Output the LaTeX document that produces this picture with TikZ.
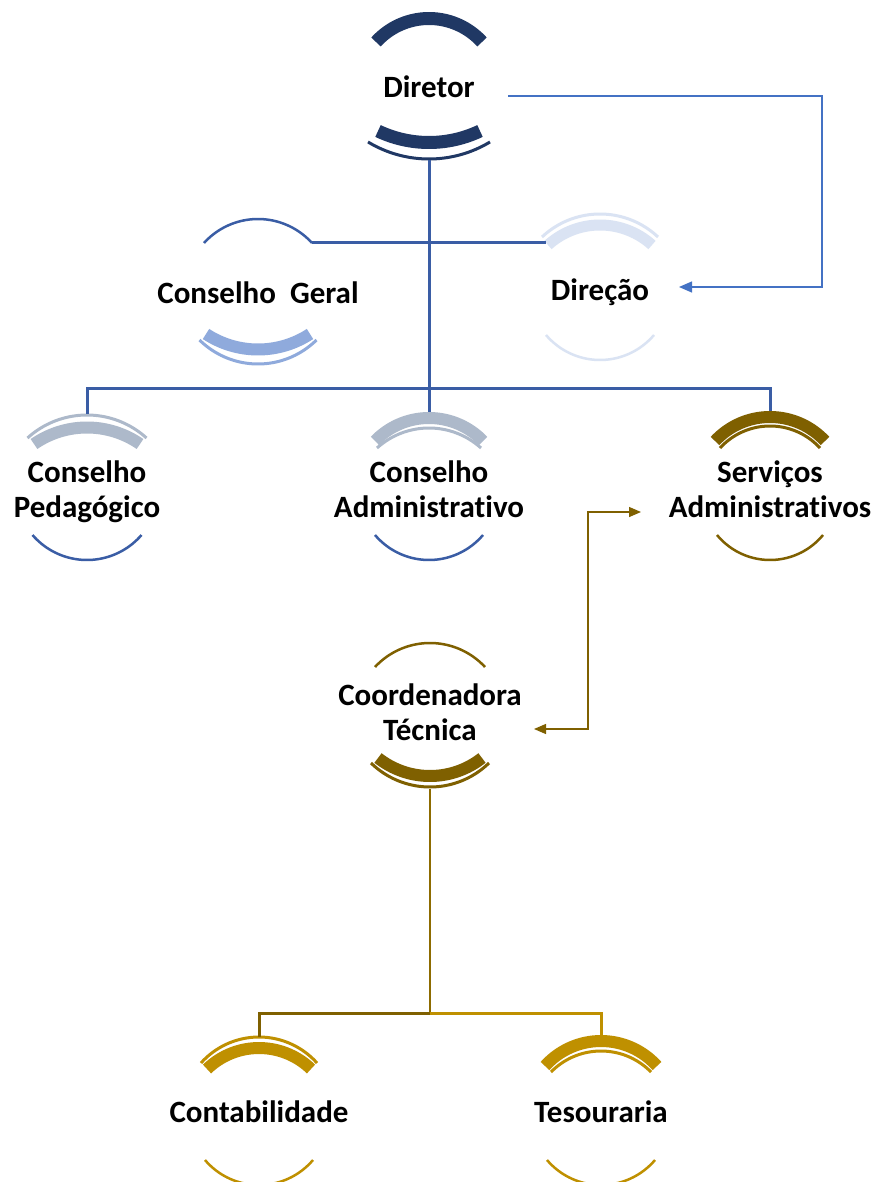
\documentclass[tikz,border=0pt]{standalone}
\usepackage{fontspec}
\setmainfont[Ligatures=NoCommon]{Carlito}
\usetikzlibrary{arrows.meta}
\definecolor{navy}{HTML}{203864}
\definecolor{midblue}{HTML}{3A5DA5}
\definecolor{lightblue}{HTML}{8FAADC}
\definecolor{paleblue}{HTML}{DAE3F3}
\definecolor{greyblue}{HTML}{ADB9CA}
\definecolor{arrowblue}{HTML}{4472C4}
\definecolor{olive}{HTML}{7F6000}
\definecolor{gold}{HTML}{BF9000}
\definecolor{midgold}{HTML}{8D6B00}
% #1 cx, #2 y at ends, #3 y at apex, #4 half width, #5 line width, #6 colour
\newcommand\orgArc[6]{%
  \pgfmathsetmacro\oaS{abs(#2-#3)}%
  \pgfmathsetmacro\oaR{(#4*#4+\oaS*\oaS)/(2*\oaS)}%
  \pgfmathsetmacro\oaT{asin(#4/\oaR)}%
  \pgfmathsetmacro\oaK{((#3<#2)?1:-1)*\oaR}%
  \draw[line width=#5pt, #6] plot[domain=-\oaT:\oaT, samples=40, variable=\t]
    ({#1+\oaR*sin(\t)},{#3+(\oaK)*(1-cos(\t))});%
}
\begin{document}
\begin{tikzpicture}[x=1pt,y=-1pt,
  lbl/.style={font=\fontsize{31}{35}\selectfont\bfseries, align=center, inner sep=0pt, anchor=base},
  bconn/.style={draw=midblue, line width=3pt},
  barrow/.style={draw=arrowblue, line width=1.3pt, -{Triangle[length=13pt,width=11pt]}},
  oarrow/.style={draw=olive, line width=1.3pt, {Triangle[length=12pt,width=10pt]}-{Triangle[length=12pt,width=10pt]}},
  oconn/.style={draw=olive, line width=3pt},
  gconn/.style={draw=gold, line width=3pt},
  vconn/.style={draw=midgold, line width=2.5pt}]
\useasboundingbox (0,0) rectangle (880,1182);
\fill[white] (0,0) rectangle (880,1182);
\clip (0,0) rectangle (880,1182);

% ---- arcs ----
% Diretor
\orgArc{429}{42}{18.5}{53}{13}{navy}
\orgArc{429}{131}{142.5}{51}{13}{navy}
\orgArc{429}{142}{159}{61}{3}{navy}
% Conselho Geral
\orgArc{258}{243}{219}{54}{2.5}{midblue}
\orgArc{258}{334}{349.5}{52}{12}{lightblue}
\orgArc{258}{340}{364}{58.5}{3}{lightblue}
% Direcao
\orgArc{600}{237}{214}{58}{3}{paleblue}
\orgArc{600}{245}{225}{52}{11}{paleblue}
\orgArc{600}{335}{360}{54}{2.5}{paleblue}
% Conselho Pedagogico
\orgArc{87}{438}{415}{59.5}{3}{greyblue}
\orgArc{87}{444}{427.5}{53}{12}{greyblue}
\orgArc{87}{535}{560}{54.5}{2.5}{midblue}
% Conselho Administrativo
\orgArc{429}{441}{418}{54}{12}{greyblue}
\orgArc{429}{448}{428}{52}{3}{greyblue}
\orgArc{429}{535}{560}{54}{2.5}{midblue}
% Servicos Administrativos
\orgArc{770}{441}{417}{55}{12}{olive}
\orgArc{770}{448}{426}{50}{3}{olive}
\orgArc{770}{535}{560}{53}{2.5}{olive}
% Coordenadora Tecnica
\orgArc{430}{667}{643}{55}{2.5}{olive}
\orgArc{430}{758}{776}{52}{12}{olive}
\orgArc{430}{763}{787}{59}{3}{olive}
% Contabilidade
\orgArc{259}{1063}{1037}{58}{3}{gold}
\orgArc{259}{1069}{1048}{52}{12}{gold}
\orgArc{259}{1160}{1185}{54}{2.5}{gold}
% Tesouraria
\orgArc{601}{1066}{1041}{56}{12}{gold}
\orgArc{601}{1072}{1051}{50}{3}{gold}
\orgArc{601}{1160}{1185}{54}{2.5}{gold}

% ---- labels (base = baseline of the last line) ----
\node[lbl] (dir) at (429,98) {Diretor};
\node[lbl] (cg) at (258,303) {Conselho\ \ Geral};
\node[lbl] (dc) at (600,300) {Direção};
\node[lbl] (cp) at (87,517) {Conselho\\Pedagógico};
\node[lbl] (ca) at (429,517) {Conselho\\Administrativo};
\node[lbl] (ss) at (770,517) {Serviços\\Administrativos};
\node[lbl] (ct) at (430,740) {Coordenadora\\Técnica};
\node[lbl] (cb) at (259,1122) {Contabilidade};
\node[lbl] (ts) at (601,1122) {Tesouraria};

% ---- connector points ----
\coordinate (dirB) at (429,160.5);
\coordinate (jB) at (429,388);
\coordinate (cgR) at (312,243);
\coordinate (dcL) at (546,243);
\coordinate (cpT) at (87,413.5);
\coordinate (caT) at (429,412);
\coordinate (ssT) at (770,411);
\coordinate (dirR) at (508,96);
\coordinate (k1) at (822,96);
\coordinate (dcR) at (679,287);
\coordinate (ssL) at (641,512);
\coordinate (k2) at (588,620);
\coordinate (ctR) at (534,729);
\coordinate (ctB) at (430,789);
\coordinate (jG) at (430,1013);
\coordinate (cbT) at (259,1037);
\coordinate (tsT) at (601,1035);

% ---- connectors ----
\draw[bconn] (dirB) -- (jB);
\draw[bconn] (cgR) -- (dcL);
\draw[bconn] (cpT) |- (jB) -| (ssT);
\draw[bconn] (jB) -- (caT);
\draw[barrow] (dirR) -- (k1) |- (dcR);
\draw[oarrow] (ssL) -| (k2) |- (ctR);
\draw[vconn] (ctB) -- (jG);
\draw[oconn] (jG) -| (cbT);
\draw[gconn] (jG) -| (tsT);
\end{tikzpicture}
\end{document}
